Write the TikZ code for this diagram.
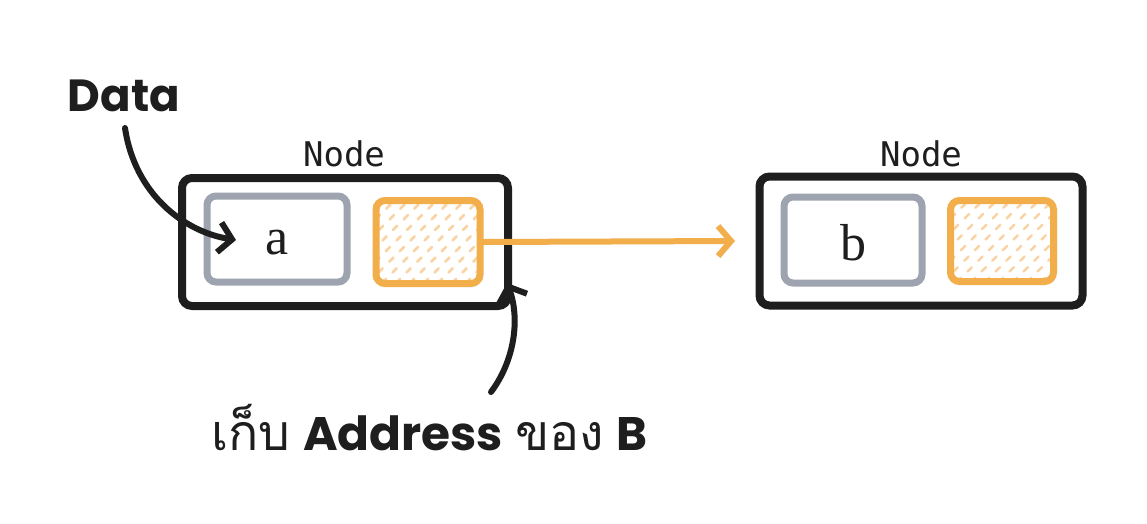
\documentclass[tikz,border=0pt]{standalone}
\usepackage{fontspec}
\setmainfont{Liberation Serif}
\newfontfamily\thaifont[Script=Thai]{Loma}
\newfontfamily\handfont{Poppins}
\newfontfamily\monofont{DejaVu Sans Mono}
\usetikzlibrary{arrows.meta}
\definecolor{inkblack}{HTML}{1E1E1E}
\definecolor{slotgray}{HTML}{9DA4AF}
\definecolor{ptrorange}{HTML}{F2AE4B}
\definecolor{hatchorange}{HTML}{F9D3A3}
\tikzset{
  outerbox/.style={draw=inkblack, line width=8pt, rounded corners=10pt},
  databox/.style={draw=slotgray, line width=7pt, rounded corners=9pt},
  ptrbox/.style={draw=ptrorange, line width=7pt, rounded corners=9pt},
  lbl/.style={font=\monofont\fontsize{34}{36}\selectfont, text=inkblack},
  val/.style={font=\fontsize{52}{54}\selectfont, text=inkblack},
  hand/.style={font=\handfont\bfseries\fontsize{45}{47}\selectfont, text=inkblack},
  blackarrow/.style={draw=inkblack, line width=6pt, line cap=round, -{Straight Barb[length=13pt,width=30pt,line width=6pt]}},
  orangearrow/.style={draw=ptrorange, line width=6pt, line cap=round, -{Straight Barb[length=13pt,width=30pt,line width=6pt]}},
  hatch/.style={draw=hatchorange, line width=2.5pt, dash pattern=on 6pt off 9pt, line cap=round}
}
\begin{document}
\begin{tikzpicture}[x=1pt,y=-1pt]
\useasboundingbox (0,0) rectangle (1147,523);
\fill[white] (0,0) rectangle (1147,523);

% hatch fills
\begin{scope}
  \clip[rounded corners=9pt] (376,201) rectangle (480,283);
  \foreach \k in {-120,-106,...,240} {
    \draw[hatch] (376+\k,283) -- (376+\k+110,173);
  }
\end{scope}
\begin{scope}
  \clip[rounded corners=9pt] (951,201) rectangle (1054,282);
  \foreach \k in {-120,-106,...,240} {
    \draw[hatch] (951+\k,282) -- (951+\k+110,172);
  }
\end{scope}

% left node
\node[outerbox, minimum width=326pt, minimum height=128pt, inner sep=0pt] (nodeA) at (345,242) {};
\node[databox, minimum width=140pt, minimum height=86pt, inner sep=0pt] (slotA) at (277,239) {};
\node[val] (valA) at (277,243) {a};
\node[ptrbox, minimum width=104pt, minimum height=83pt, inner sep=0pt] (ptrA) at (428,242) {};
\node[lbl] (lblA) at (344,154) {Node};

% right node
\node[outerbox, minimum width=323pt, minimum height=129pt, inner sep=0pt] (nodeB) at (921,241) {};
\node[databox, minimum width=138pt, minimum height=86pt, inner sep=0pt] (slotB) at (853,240) {};
\node[val] (valB) at (853,243) {b};
\node[ptrbox, minimum width=103pt, minimum height=81pt, inner sep=0pt] (ptrB) at (1002,241) {};
\node[lbl] (lblB) at (921,154) {Node};

% pointer arrow
\coordinate (ptrEnd) at (735,241);
\draw[orangearrow] (ptrA.east) -- (ptrEnd);

% Data label
\node[hand] (dataLbl) at (124,96) {Data};
\coordinate (dataTip) at (236,240);
\draw[blackarrow] (125,128) .. controls (135,195) and (185,232) .. (dataTip);

% address label
\node[font=\fontsize{50}{52}\selectfont, text=inkblack, anchor=west] (addrLbl) at (208,428)
  {{\thaifont เก็บ} {\handfont\bfseries\fontsize{47}{49}\selectfont Address} {\thaifont ของ} {\handfont\bfseries\fontsize{47}{49}\selectfont B}};
\coordinate (addrStart) at (491,392);
\coordinate (addrTip) at (507,283);
\draw[blackarrow] (addrStart) .. controls (515,360) and (520,318) .. (addrTip);
\end{tikzpicture}
\end{document}
